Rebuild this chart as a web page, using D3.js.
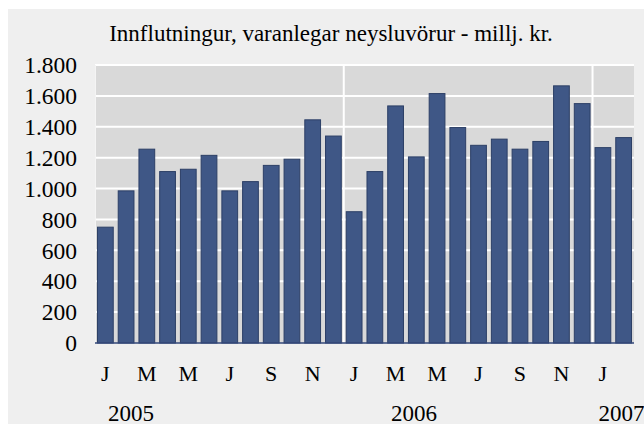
<!DOCTYPE html>
<html>
<head>
<meta charset="utf-8">
<script src="https://cdn.jsdelivr.net/npm/d3@7/dist/d3.min.js"></script>
<style>
  html, body { margin: 0; padding: 0; background: #ffffff; }
  svg { display: block; }
</style>
</head>
<body>
<svg id="chart" width="644" height="427"></svg>
<script>
/* ---------------- data ---------------- */
const title = "Innflutningur, varanlegar neysluvörur - millj. kr.";
const monthLetters = ["J", "F", "M", "A", "M", "J", "J", "A", "S", "O", "N", "D"];
const years = ["2005", "2006", "2007"];
const values2005 = [750, 985, 1255, 1110, 1125, 1215, 985, 1045, 1150, 1190, 1445, 1340];
const values2006 = [850, 1110, 1535, 1205, 1615, 1395, 1280, 1320, 1255, 1305, 1665, 1550];
const values2007 = [1265, 1330];
const yTicks = [0, 200, 400, 600, 800, 1000, 1200, 1400, 1600, 1800];

const series = [values2005, values2006, values2007];
const rows = [];
series.forEach((vals, yi) => {
  vals.forEach((v, m) => {
    rows.push({ key: years[yi] + "-" + m, year: years[yi], month: m, value: v });
  });
});

/* ---------------- layout ---------------- */
const W = 644;
const plot = { left: 95, right: 634, top: 65, bottom: 343 };
const FONT = "'Liberation Serif', 'Times New Roman', 'DejaVu Serif', serif";
const svg = d3.select("#chart").attr("font-family", FONT);

svg.append("rect")
  .attr("x", 8).attr("y", 9)
  .attr("width", W - 8).attr("height", 415)
  .attr("fill", "#efefef");

const x = d3.scaleBand()
  .domain(rows.map((d) => d.key))
  .range([plot.left, plot.right])
  .paddingInner(0.24)
  .paddingOuter(0.12);

const y = d3.scaleLinear().domain([0, 1800]).range([plot.bottom, plot.top]);

// plot background
svg.append("rect")
  .attr("x", plot.left).attr("y", plot.top)
  .attr("width", plot.right - plot.left)
  .attr("height", plot.bottom - plot.top)
  .attr("fill", "#d9d9d9");

// horizontal gridlines
svg.append("g")
  .selectAll("line")
  .data(yTicks.filter((t) => t > 0))
  .enter()
  .append("line")
  .attr("x1", plot.left).attr("x2", plot.right)
  .attr("y1", (d) => y(d)).attr("y2", (d) => y(d))
  .attr("stroke", "#ffffff")
  .attr("stroke-width", 2);

// year separators (at the start of each January after the first)
const step = x.step();
svg.append("g")
  .selectAll("line")
  .data(rows.filter((d) => d.month === 0 && d.year !== years[0]))
  .enter()
  .append("line")
  .attr("x1", (d) => x(d.key) - step * x.paddingInner() / 2)
  .attr("x2", (d) => x(d.key) - step * x.paddingInner() / 2)
  .attr("y1", plot.top).attr("y2", plot.bottom)
  .attr("stroke", "#ffffff")
  .attr("stroke-width", 2);

svg.append("line")
  .attr("x1", plot.left + 0.5).attr("x2", plot.left + 0.5)
  .attr("y1", plot.top).attr("y2", plot.bottom)
  .attr("stroke", "#f4f4f4")
  .attr("stroke-width", 1);

// bars
svg.append("g")
  .selectAll("rect")
  .data(rows)
  .enter()
  .append("rect")
  .attr("x", (d) => x(d.key))
  .attr("y", (d) => y(d.value))
  .attr("width", x.bandwidth())
  .attr("height", (d) => y(0) - y(d.value))
  .attr("fill", "#3f5786")
  .attr("stroke", "#2c3f66")
  .attr("stroke-width", 1);

// baseline
svg.append("line")
  .attr("x1", plot.left).attr("x2", plot.right)
  .attr("y1", y(0)).attr("y2", y(0))
  .attr("stroke", "#34497a")
  .attr("stroke-width", 1.5);

// y axis labels
const fmt = (v) => d3.format(",")(v).replace(/,/g, ".");
svg.append("g")
  .selectAll("text")
  .data(yTicks)
  .enter()
  .append("text")
  .attr("x", 77)
  .attr("y", (d) => y(d))
  .attr("dy", "0.35em")
  .attr("text-anchor", "end")
  .attr("font-size", 23.5)
  .text(fmt);

// month labels, every other month
svg.append("g")
  .selectAll("text")
  .data(rows.filter((d, i) => i % 2 === 0))
  .enter()
  .append("text")
  .attr("x", (d) => x(d.key) + x.bandwidth() / 2)
  .attr("y", 381)
  .attr("text-anchor", "middle")
  .attr("font-size", 22)
  .text((d) => monthLetters[d.month]);

// year labels (centre given in bands from the plot's left edge)
const yearCentre = [1.74, 15.39, 25.4];
svg.append("g")
  .selectAll("text")
  .data(years)
  .enter()
  .append("text")
  .attr("x", (d, i) => plot.left + yearCentre[i] * step)
  .attr("y", 421)
  .attr("text-anchor", "middle")
  .attr("font-size", 23)
  .text((d) => d);

// title
svg.append("text")
  .attr("x", 331)
  .attr("y", 41)
  .attr("text-anchor", "middle")
  .attr("font-size", 23)
  .text(title);
</script>
</body>
</html>
